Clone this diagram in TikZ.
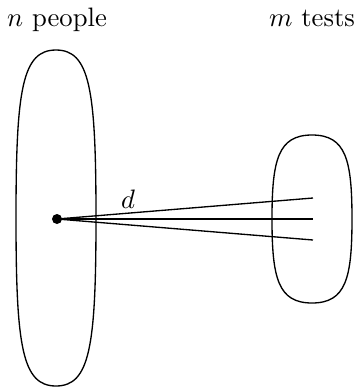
\documentclass[tikz,border=0pt]{standalone}
\begin{document}
\begin{tikzpicture}[x=0.375pt,y=-0.375pt,
  blob/.style={draw,line width=0.5pt},
  conn/.style={draw,line width=0.5pt},
  lbl/.style={inner sep=0pt,anchor=base}]
\useasboundingbox (0,0) rectangle (356,388);
% left group
\draw[blob] (56,50) .. controls (22,50) and (16,90) .. (16,218)
  .. controls (16,346) and (22,386) .. (56,386)
  .. controls (90,386) and (96,346) .. (96,218)
  .. controls (96,90) and (90,50) .. (56,50) -- cycle;
% right group
\draw[blob] (312,135) .. controls (278,135) and (272,160) .. (272,219)
  .. controls (272,278) and (278,303) .. (312,303)
  .. controls (346,303) and (352,278) .. (352,219)
  .. controls (352,160) and (346,135) .. (312,135) -- cycle;
\node[lbl] (np) at (57,26) {$n$ people};
\node[lbl] (mt) at (312,26) {$m$ tests};
\fill (57,219) circle (5);
\node[inner sep=0pt] (p0) at (57,219) {};
\coordinate (t1) at (313,198);
\coordinate (t2) at (313,219);
\coordinate (t3) at (313,240);
\draw[conn] (p0) -- (t1);
\draw[conn] (p0) -- (t2);
\draw[conn] (p0) -- (t3);
\node (d) at (128,199) {$d$};
\end{tikzpicture}
\end{document}
